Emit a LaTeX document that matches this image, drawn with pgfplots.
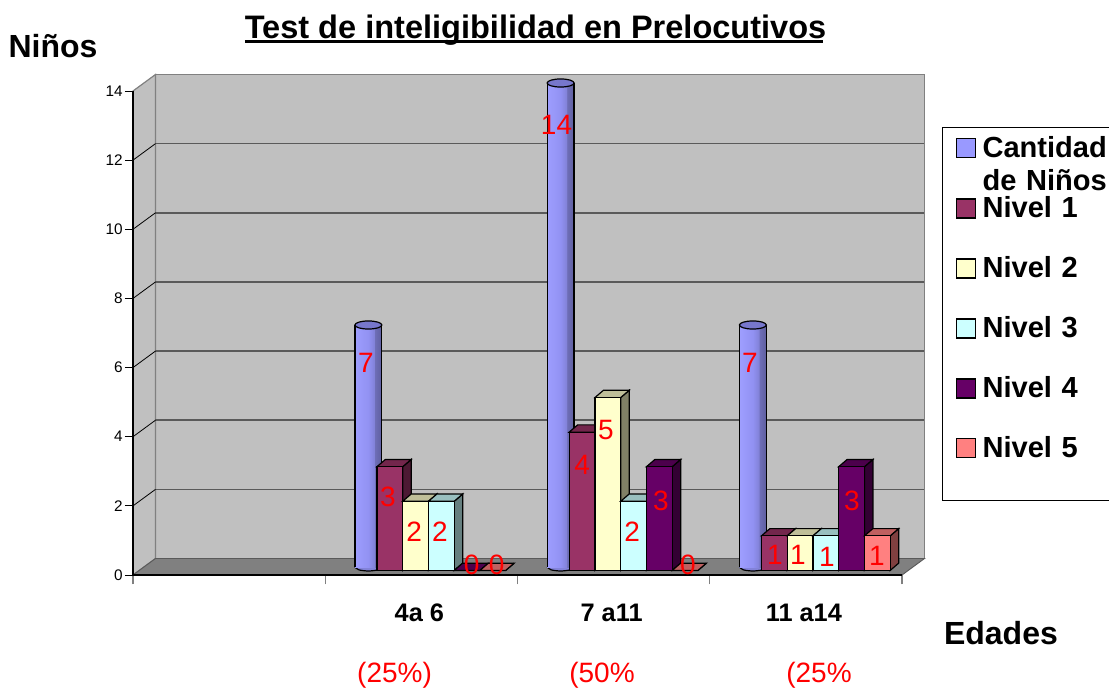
\documentclass[border=0pt]{standalone}
\usepackage{fontspec}
\setmainfont{Liberation Sans}
\usepackage{pgfplots}
\usepackage{pgfplotstable}
\pgfplotsset{compat=1.18}

\definecolor{pared}{HTML}{C0C0C0}
\definecolor{suelo}{HTML}{808080}
\definecolor{rejilla}{HTML}{5A5A5A}
\definecolor{cant}{HTML}{9999FF}
\definecolor{tapa}{HTML}{7777CC}
\definecolor{n1}{HTML}{993366}
\definecolor{n2}{HTML}{FFFFCC}
\definecolor{n3}{HTML}{CCFFFF}
\definecolor{n4}{HTML}{660066}
\definecolor{n5}{HTML}{FF8080}
\pgfdeclarehorizontalshading{cilindro}{100bp}{
  color(0bp)=(cant!95!white); color(25bp)=(cant!95!white);
  color(50bp)=(cant!95!black); color(61bp)=(cant!85!black);
  color(62bp)=(cant!72!black); color(75bp)=(cant!62!black); color(100bp)=(cant!62!black)}

% 1 px of the reference = 0.75pt; 192.25 px per category, 34.57 px per unit
\pgfplotstableread{
cat cant n1 n2 n3 n4 n5
2   7    3  2  2  0  0
3   14   4  5  2  3  0
4   7    1  1  1  3  1
}\datos

\pgfplotstableread{
x     y      label
1.712 6.132  7
1.826 2.256  3
1.962 1.244  2
2.097 1.244  2
2.261 0.289  0
2.391 0.289  0
2.703 13.017 14
2.836 3.182  4
2.960 4.194  5
3.096 1.244  2
3.246 2.141  3
3.387 0.289  0
3.709 6.132  7
3.839 0.579  1
3.959 0.579  1
4.110 0.521  1
4.240 2.141  3
4.370 0.550  1
}\etiquetas

% top and side face of one series, bar shift in px
\newcommand{\caras}[3]{%
  \pgfplotsforeachungrouped \fila in {0,1,2}{%
    \pgfplotstablegetelem{\fila}{cat}\of\datos \let\xc\pgfplotsretval
    \pgfplotstablegetelem{\fila}{#1}\of\datos \let\val\pgfplotsretval
    \pgfmathsetmacro\xl{\xc+(#2-12.875)/192.25}
    \pgfmathsetmacro\xr{\xc+(#2+12.875)/192.25}
    \pgfmathsetmacro\xk{\xl+0.0442}
    \pgfmathsetmacro\xm{\xr+0.0442}
    \pgfmathsetmacro\yt{\val+0.211}
    \edef\tmp{\noexpand\addplot[fill=#3!50!black,draw=black,line width=.9pt,yshift=3.4pt,forget plot]
      coordinates {(\xr,0)(\xm,0.211)(\xm,\yt)(\xr,\val)} --cycle;
      \noexpand\addplot[fill=#3!75!black,draw=black,line width=.9pt,yshift=3.4pt,forget plot]
      coordinates {(\xl,\val)(\xk,\yt)(\xm,\yt)(\xr,\val)} --cycle;}\tmp
  }}

\tikzset{entrada/.style={text width=130pt,text height=22.5pt,text depth=22.5pt,inner sep=0pt}}
\pgfplotsset{
  cuerpo/.style={ybar,bar width=20.25pt,bar shift=-39.75pt,draw=none,shade,shading=cilindro,yshift=6pt},
  base/.style={smooth,draw=black,fill=cant!85!black,line width=.9pt,xshift=-39.75pt,yshift=6pt,forget plot},
  % swatch colour, then how far down it sits in its row
  muestra/.style 2 args={legend image code/.code={%
    \pgfpathrectanglecorners{\pgfpoint{0pt}{0pt}}{\pgfpoint{30pt}{14.25pt}}\pgfusepath{use as bounding box}
    \draw[shade=false,fill=#1,draw=black,line width=.9pt] (10.5pt,0pt-#2) rectangle (24.75pt,14.25pt-#2);}},
}

\begin{document}
\begin{tikzpicture}
\path[use as bounding box] (-99.75pt,-87.75pt) rectangle ++(831.75pt,519pt);
\begin{axis}[
    at={(0,0)}, anchor=south west,
    scale only axis,
    width=576.75pt, height=363pt,
    clip=false,
    axis on top,
    xmin=0.5, xmax=4.5,
    ymin=0, ymax=14,
    axis x line=bottom, axis y line=left,
    axis line style={-,line width=.9pt,black},
    tick align=outside,
    ytick={0,2,...,14},
    xtick={1,2,3,4},
    xticklabels={,4a 6,7 a11,11 a14},
    minor xtick={0.5,1.5,2.5,3.5,4.5},
    major x tick style={draw=none},
    minor x tick style={draw=suelo,line width=.9pt},
    major y tick style={draw=black,line width=.7pt},
    major tick length=6pt,
    minor tick length=7pt,
    /pgf/number format/assume math mode=true,
    yticklabel style={font=\fontsize{11.5}{12}\selectfont,inner sep=1.5pt},
    xticklabel style={font=\fontsize{19}{20}\selectfont\bfseries,yshift=-12.25pt,xshift=-1.5pt},
    title={\rlap{\rule[-3pt]{434pt}{1.6pt}}Test de inteligibilidad en Prelocutivos},
    title style={at={(axis description cs:0.5234,1.109)},anchor=center,inner sep=0pt,
      font=\fontsize{24.4}{26}\selectfont\bfseries},
    ylabel={Niños},
    ylabel style={at={(axis description cs:-0.1040,1.093)},rotate=-90,anchor=center,inner sep=0pt,
      font=\fontsize{24}{26}\selectfont\bfseries},
    xlabel={Edades},
    xlabel style={at={(axis description cs:1.1287,-0.1198)},anchor=center,inner sep=0pt,
      font=\fontsize{24}{26}\selectfont\bfseries},
    legend style={at={(axis description cs:1.052,0.9256)},anchor=north west,
      draw=black,line width=.8pt,inner sep=0pt,row sep=0pt,column sep=0pt,
      font=\fontsize{21.8}{26}\selectfont\bfseries},
    legend cell align=left,
]
% walls and floor
\addplot[fill=pared,draw=suelo,line width=.9pt,forget plot] coordinates {(0.617,0.477)(4.617,0.477)(4.617,14.477)(0.617,14.477)} --cycle;
\addplot[fill=pared,draw=suelo,line width=.9pt,forget plot] coordinates {(0.5,0)(0.617,0.477)(0.617,14.477)(0.5,14)} --cycle;
\addplot[fill=suelo,draw=rejilla,line width=.7pt,forget plot] coordinates {(0.5,0)(0.617,0.477)(4.617,0.477)(4.5,0)} --cycle;
% grid on the walls
\addplot[rejilla,line width=1.1pt,forget plot] coordinates {(0.617,2.477)(4.617,2.477)};
\addplot[rejilla,line width=1.1pt,forget plot] coordinates {(0.617,4.477)(4.617,4.477)};
\addplot[rejilla,line width=1.1pt,forget plot] coordinates {(0.617,6.477)(4.617,6.477)};
\addplot[rejilla,line width=1.1pt,forget plot] coordinates {(0.617,8.477)(4.617,8.477)};
\addplot[rejilla,line width=1.1pt,forget plot] coordinates {(0.617,10.477)(4.617,10.477)};
\addplot[rejilla,line width=1.1pt,forget plot] coordinates {(0.617,12.477)(4.617,12.477)};
\addplot[black,line width=.6pt,forget plot] coordinates {(0.5,2)(0.617,2.477)};
\addplot[black,line width=.6pt,forget plot] coordinates {(0.5,4)(0.617,4.477)};
\addplot[black,line width=.6pt,forget plot] coordinates {(0.5,6)(0.617,6.477)};
\addplot[black,line width=.6pt,forget plot] coordinates {(0.5,8)(0.617,8.477)};
\addplot[black,line width=.6pt,forget plot] coordinates {(0.5,10)(0.617,10.477)};
\addplot[black,line width=.6pt,forget plot] coordinates {(0.5,12)(0.617,12.477)};

% cylinders: rounded foot, then each body on its own so that the shading fits it
\addplot[base] coordinates {(1.9298,0)(1.9503,-0.0818)(2,-0.1157)(2.0497,-0.0818)(2.0702,0)};
\addplot[base] coordinates {(2.9298,0)(2.9503,-0.0818)(3,-0.1157)(3.0497,-0.0818)(3.0702,0)};
\addplot[base] coordinates {(3.9298,0)(3.9503,-0.0818)(4,-0.1157)(4.0497,-0.0818)(4.0702,0)};
\addplot[cuerpo,muestra={cant}{6pt}] coordinates {(2,7)};
\addlegendentry[entrada]{\smash{\parbox[t]{130pt}{\baselineskip=25pt Cantidad\\de Niños}}}
\addplot[cuerpo,forget plot] coordinates {(3,14)};
\addplot[cuerpo,forget plot] coordinates {(4,7)};
\addplot[ycomb,black,line width=.9pt,no marks,xshift=-49.85pt,yshift=6pt,forget plot] table[x=cat,y=cant] {\datos};
\addplot[ycomb,black,line width=.9pt,no marks,xshift=-29.65pt,yshift=6pt,forget plot] table[x=cat,y=cant] {\datos};
\addplot[only marks,mark=*,mark size=10.1pt,mark options={yscale=.3,fill=tapa,draw=black,line width=.9pt},xshift=-39.75pt,yshift=6pt,forget plot]
  table[x=cat,y=cant] {\datos};

% bars, one series after the other
\caras{n1}{-31.6}{n1}
\addplot[ybar,bar width=19.3pt,bar shift=-23.7pt,fill=n1,draw=black,line width=.9pt,yshift=3.4pt,muestra={n1}{3.75pt}] table[x=cat,y=n1] {\datos};
\addlegendentry[entrada]{Nivel 1}
\caras{n2}{-5.85}{n2}
\addplot[ybar,bar width=19.3pt,bar shift=-4.39pt,fill=n2,draw=black,line width=.9pt,yshift=3.4pt,muestra={n2}{3.75pt}] table[x=cat,y=n2] {\datos};
\addlegendentry[entrada]{Nivel 2}
\caras{n3}{19.9}{n3}
\addplot[ybar,bar width=19.3pt,bar shift=14.93pt,fill=n3,draw=black,line width=.9pt,yshift=3.4pt,muestra={n3}{3.75pt}] table[x=cat,y=n3] {\datos};
\addlegendentry[entrada]{Nivel 3}
\caras{n4}{45.65}{n4}
\addplot[ybar,bar width=19.3pt,bar shift=34.24pt,fill=n4,draw=black,line width=.9pt,yshift=3.4pt,muestra={n4}{3.75pt}] table[x=cat,y=n4] {\datos};
\addlegendentry[entrada]{Nivel 4}
\caras{n5}{71.4}{n5}
\addplot[ybar,bar width=19.3pt,bar shift=53.55pt,fill=n5,draw=black,line width=.9pt,yshift=3.4pt,muestra={n5}{-1.5pt}] table[x=cat,y=n5] {\datos};
\addlegendentry[entrada,text depth=32pt]{Nivel 5}

% value labels
\addplot[draw=none,mark=none,forget plot,nodes near coords,point meta=explicit symbolic,
  nodes near coords align={center},
  every node near coord/.append style={text=red,inner sep=0pt,font=\fontsize{21}{22}\selectfont}]
  table[x=x,y=y,meta=label] {\etiquetas};

\node[anchor=west,text=red,inner sep=0pt,font=\fontsize{21}{22}\selectfont] at (axis cs:1.665,-2.89) {(25\%)};
\node[anchor=west,text=red,inner sep=0pt,font=\fontsize{21}{22}\selectfont] at (axis cs:2.768,-2.89) {(50\%};
\node[anchor=west,text=red,inner sep=0pt,font=\fontsize{21}{22}\selectfont] at (axis cs:3.897,-2.89) {(25\%};
\end{axis}
\end{tikzpicture}
\end{document}
